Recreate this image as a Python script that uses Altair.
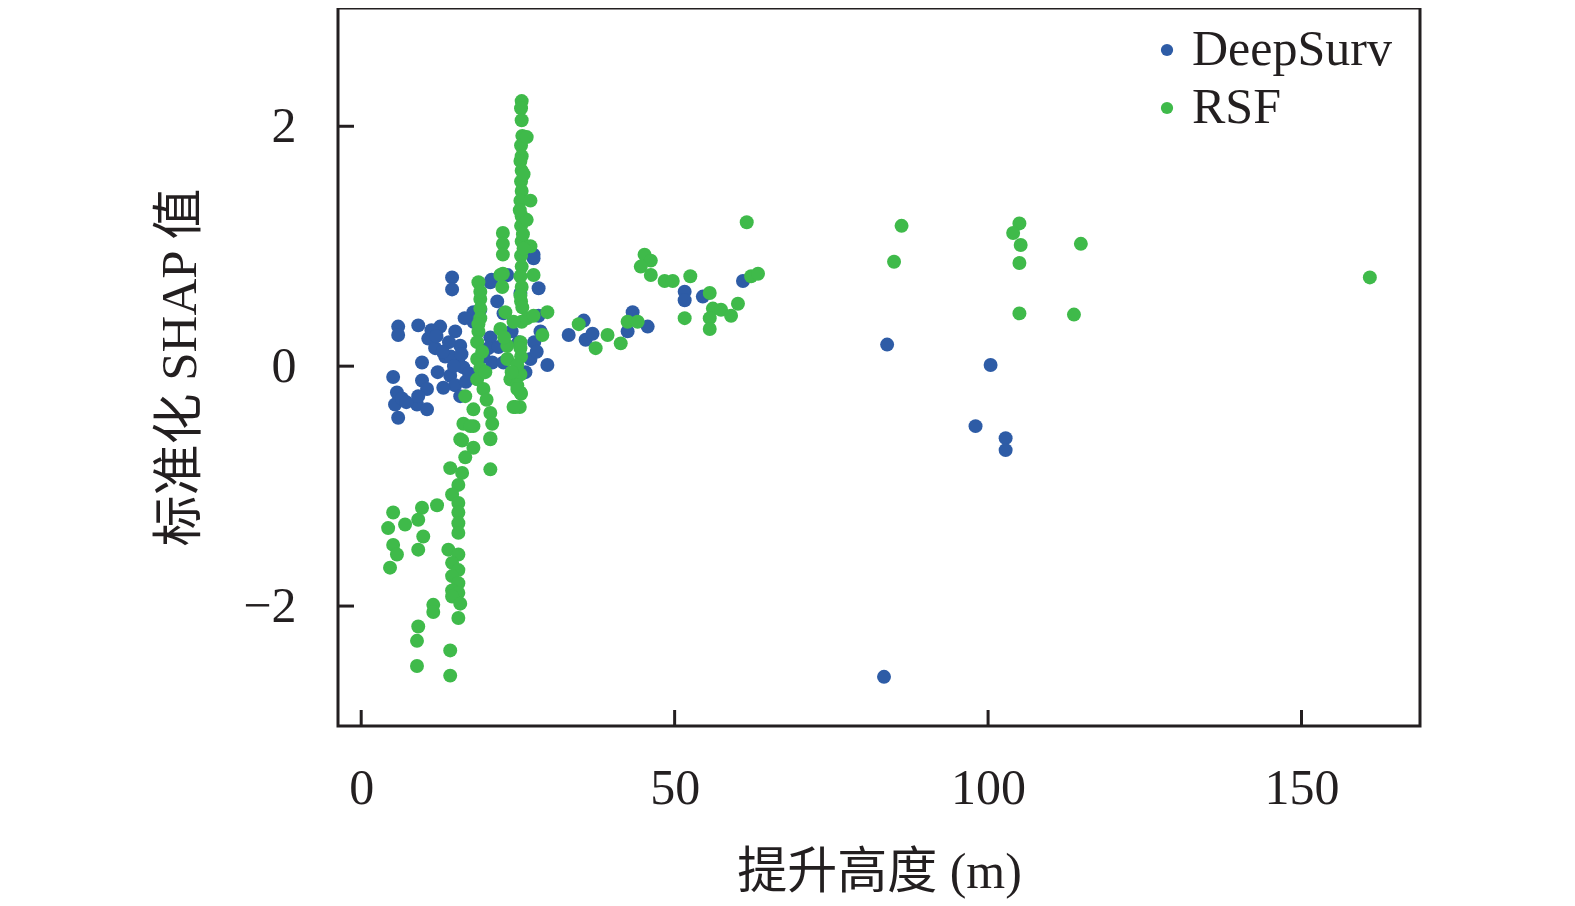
import altair as alt
import pandas as pd

SERIES = ["DeepSurv", "RSF"]
COLORS = ["#2e5ca6", "#3fba4a"]
X_TICKS = [0, 50, 100, 150]
Y_TICKS = [-2, 0, 2]
X_TITLE = "提升高度 (m)"
Y_TITLE = "标准化 SHAP 值"

# (lift height, standardized SHAP)
DEEPSURV = [
    (83.9, 0.18), (83.4, -2.59), (100.4, 0.01), (98.0, -0.50), (102.8, -0.60), (102.8, -0.70),
    (51.6, 0.62), (51.6, 0.55), (54.5, 0.58), (60.9, 0.71), (43.3, 0.45), (45.7, 0.33),
    (42.5, 0.29), (35.5, 0.38), (33.1, 0.26), (35.8, 0.22), (36.9, 0.27), (28.3, 0.65),
    (29.7, 0.01), (27.5, 0.93),
    (14.5, 0.74), (14.5, 0.64), (5.9, 0.33), (5.9, 0.26), (9.1, 0.34), (10.7, 0.23),
    (12.6, 0.33), (11.8, 0.15), (13.4, 0.08), (9.7, 0.03), (5.1, -0.09), (5.7, -0.22),
    (5.4, -0.32), (5.9, -0.43), (9.7, -0.12), (10.5, -0.19), (8.9, -0.32), (10.5, -0.36),
    (15.0, 0.29), (15.8, 0.17), (15.5, 0.06), (14.2, -0.08), (15.0, -0.16), (15.8, -0.25),
    (17.9, 0.45), (17.9, 0.37), (20.6, 0.70), (21.7, 0.54), (22.7, 0.44), (20.6, 0.24),
    (20.3, 0.15), (20.9, 0.03), (27.5, 0.90), (27.0, 0.06), (28.6, 0.29), (25.4, 0.61),
    (23.3, 0.76), (24.3, -0.11), (26.2, -0.05), (20.8, 0.72), (14.0, 0.20), (14.3, 0.08),
    (16.3, -0.01), (16.7, -0.13), (13.1, -0.18), (22.7, 0.03), (21.9, 0.16), (24.0, 0.29),
    (25.1, 0.20), (19.5, 0.08), (6.5, -0.27), (7.2, -0.30), (11.2, 0.30), (12.0, 0.25),
    (16.5, 0.40), (19.0, 0.47), (28.3, 0.42), (27.6, 0.20), (28.0, 0.12), (9.1, -0.25),
    (16.0, 0.10), (17.2, -0.06), (14.8, 0.00), (13.0, 0.12), (12.2, -0.05),
]

RSF = [
    (160.9, 0.74), (114.8, 1.02), (113.7, 0.43), (105.0, 1.19), (104.0, 1.11), (105.2, 1.01),
    (105.0, 0.86), (105.0, 0.44), (86.2, 1.17), (85.0, 0.87), (61.5, 1.20),
    (45.2, 0.93), (46.2, 0.88), (44.6, 0.83), (46.2, 0.76), (48.4, 0.71), (49.7, 0.71),
    (52.5, 0.75), (51.6, 0.40), (55.6, 0.61), (56.1, 0.48), (57.4, 0.47), (55.6, 0.40),
    (55.6, 0.31), (59.0, 0.42), (60.1, 0.52), (62.2, 0.75), (63.3, 0.77), (42.5, 0.37),
    (44.1, 0.37), (39.3, 0.26), (41.4, 0.19), (37.4, 0.15), (34.7, 0.35), (29.7, 0.45),
    (28.9, 0.26), (27.5, 0.76),
    (25.6, 2.21), (25.5, 2.15), (25.6, 2.05), (25.7, 1.92), (25.5, 1.84), (25.6, 1.75),
    (25.4, 1.71), (25.6, 1.63), (25.5, 1.54), (25.6, 1.46), (25.4, 1.38), (25.6, 1.25),
    (25.5, 1.17), (25.6, 1.04), (25.5, 0.92), (25.6, 0.83), (25.4, 0.75), (25.6, 0.66),
    (25.5, 0.54), (25.6, 0.37), (25.4, 0.20), (25.5, 0.08), (25.4, -0.07), (25.5, -0.23),
    (25.3, -0.34), (26.4, 1.91), (27.0, 1.38), (26.4, 1.22), (27.0, 1.00), (25.3, 1.30),
    (25.9, 1.60), (25.8, 1.10), (25.9, 0.98),
    (22.6, 1.11), (22.6, 1.02), (22.6, 0.93), (22.6, 0.77),
    (18.7, 0.70), (19.0, 0.56), (19.0, 0.48), (19.0, 0.40), (18.7, 0.29), (18.5, 0.20),
    (18.5, 0.06), (19.0, -0.02), (18.5, -0.11), (19.5, -0.19), (16.6, -0.25), (17.9, -0.36),
    (20.6, -0.39), (16.3, -0.48), (17.9, -0.50), (19.0, 0.62), (18.7, 0.35), (19.3, 0.12),
    (19.8, -0.05), (20.0, -0.28),
    (22.2, 0.76), (22.5, 0.66), (25.4, 0.59), (25.7, 0.49), (22.2, 0.31), (24.3, 0.37),
    (26.5, 0.40), (27.5, 0.42), (23.3, 0.17), (25.4, 0.15), (23.3, 0.06), (24.9, 0.01),
    (23.8, -0.11), (24.9, -0.16), (24.6, -0.34), (25.4, -0.22), (20.9, -0.48), (24.3, -0.34),
    (24.9, -0.19), (22.8, 0.24), (23.0, 0.45), (24.0, -0.05),
    (15.8, -0.61), (20.6, -0.61), (17.4, -0.50), (20.6, -0.60), (16.1, -0.62), (17.9, -0.68),
    (16.6, -0.76), (14.2, -0.85), (20.6, -0.86), (16.1, -0.89), (15.5, -0.99), (14.5, -1.07),
    (12.1, -1.16), (9.7, -1.18), (15.5, -1.14), (5.1, -1.22), (7.0, -1.32), (9.1, -1.28),
    (4.3, -1.35), (15.5, -1.22), (15.5, -1.31), (15.5, -1.39), (9.9, -1.42), (5.1, -1.49),
    (9.1, -1.53), (5.7, -1.57), (13.9, -1.53), (15.5, -1.57), (4.6, -1.68), (14.5, -1.64),
    (15.5, -1.70), (14.5, -1.75), (15.5, -1.81), (14.5, -1.87), (15.5, -1.89), (14.5, -1.92),
    (15.8, -1.98), (11.5, -1.99), (11.5, -2.05), (15.5, -2.10), (9.1, -2.17), (8.9, -2.29),
    (14.2, -2.37), (8.9, -2.50), (14.2, -2.58),
]

rows = [{"h": x, "v": y, "model": "DeepSurv"} for x, y in DEEPSURV]
rows += [{"h": x, "v": y, "model": "RSF"} for x, y in RSF]
df = pd.DataFrame(rows)
df["order"] = range(len(df))

W, H = 1082, 718
FONT = "Liberation Serif, Noto Sans CJK SC"
INK = "#231f20"
TICK_LEN = 16

xscale = alt.Scale(domain=[-3.7, 168.9], nice=False, zero=False)
yscale = alt.Scale(domain=[-3.0, 2.986], nice=False, zero=False)
xaxis = alt.Axis(values=X_TICKS, title=X_TITLE, labelPadding=37, titlePadding=34)
yaxis = alt.Axis(values=Y_TICKS, title=Y_TITLE, labelPadding=42, titlePadding=36,
                 titleFontSize=51)

points = alt.Chart(df).mark_circle(size=195, opacity=1).encode(
    x=alt.X("h:Q", scale=xscale, axis=xaxis, title=X_TITLE),
    y=alt.Y("v:Q", scale=yscale, axis=yaxis, title=Y_TITLE),
    color=alt.Color("model:N", scale=alt.Scale(domain=SERIES, range=COLORS),
                    legend=alt.Legend(title=None, orient="none", legendX=804, legendY=17,
                                      padding=0, labelFontSize=50, labelFont=FONT,
                                      labelColor=INK, labelLimit=0, symbolType="circle",
                                      symbolSize=150, symbolOpacity=1, symbolStrokeWidth=0,
                                      rowPadding=8, labelOffset=0)),
    order="order:Q",
)

xticks = alt.Chart(pd.DataFrame({"t": X_TICKS})).mark_rule(color=INK, strokeWidth=3).encode(
    x=alt.X("t:Q", scale=xscale, axis=xaxis, title=X_TITLE),
    y=alt.value(H),
    y2=alt.value(H - TICK_LEN),
)
yticks = alt.Chart(pd.DataFrame({"t": Y_TICKS})).mark_rule(color=INK, strokeWidth=3).encode(
    y=alt.Y("t:Q", scale=yscale, axis=yaxis, title=Y_TITLE),
    x=alt.value(0),
    x2=alt.value(TICK_LEN),
)

chart = alt.layer(points, xticks, yticks).properties(
    width=W, height=H,
    autosize=alt.AutoSizeParams(type="none"),
    padding={"left": 330, "top": 0, "right": 20, "bottom": 178},
    background="white",
).configure_view(
    stroke=INK, strokeWidth=3,
).configure_axis(
    labelFont=FONT, labelFontSize=50, labelColor=INK,
    titleFont=FONT, titleFontSize=50, titleFontWeight="normal", titleColor=INK,
    domain=False, ticks=False, tickSize=0, grid=False,
)

chart.save("out.html", embed_options={"renderer": "svg", "actions": False})
